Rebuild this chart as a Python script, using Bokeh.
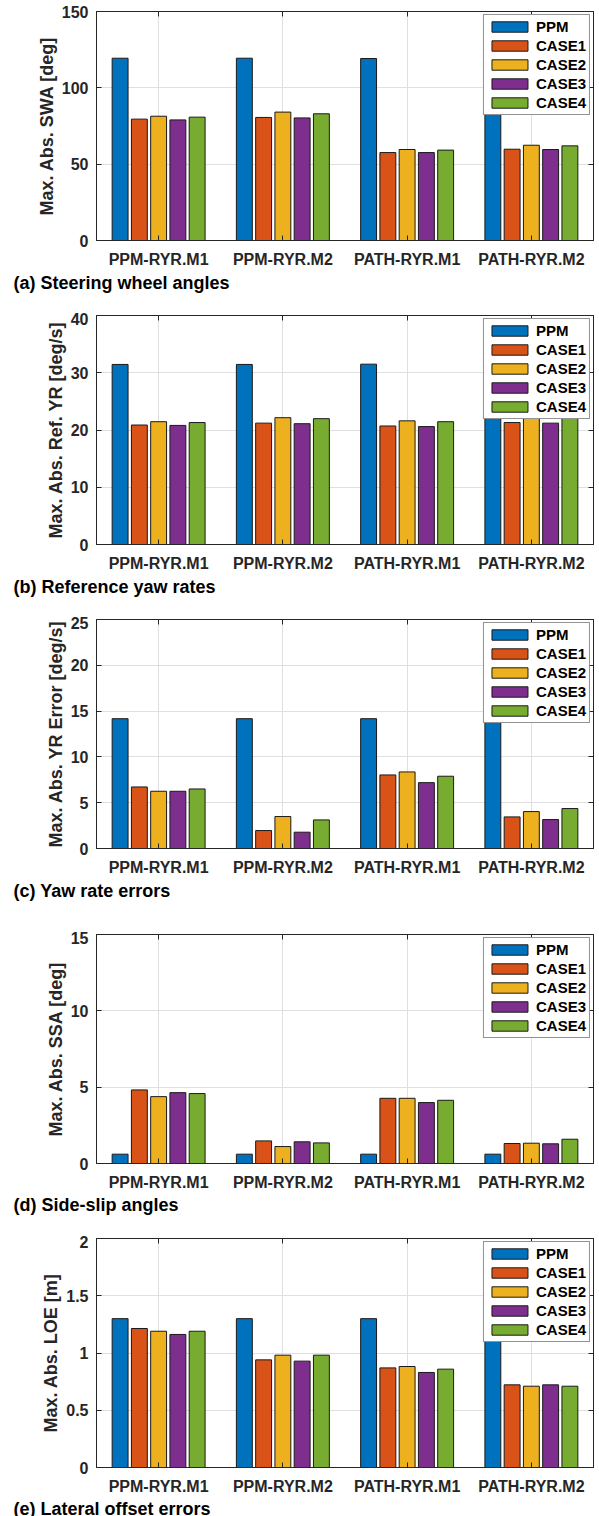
from bokeh.plotting import figure
from bokeh.models import (FactorRange, Range1d, FixedTicker, LinearAxis, CategoricalAxis,
                          Title, ColumnDataSource)
from bokeh.transform import dodge
from bokeh.layouts import column
from bokeh.embed import file_html
from bokeh.resources import INLINE

CATEGORIES = ["PPM-RYR.M1", "PPM-RYR.M2", "PATH-RYR.M1", "PATH-RYR.M2"]
SERIES = ["PPM", "CASE1", "CASE2", "CASE3", "CASE4"]
COLORS = ["#0072BD", "#D95319", "#EDB120", "#7E2F8E", "#77AC30"]

# (a) Max. Abs. SWA [deg]
SWA_PPM = [119.4, 119.4, 119.2, 119.4]
SWA_CASE1 = [79.5, 80.6, 57.6, 59.8]
SWA_CASE2 = [81.4, 84.1, 59.6, 62.4]
SWA_CASE3 = [79.0, 80.3, 57.6, 59.6]
SWA_CASE4 = [80.8, 83.0, 59.2, 62.0]

# (b) Max. Abs. Ref. YR [deg/s]
RYR_PPM = [31.45, 31.45, 31.5, 31.45]
RYR_CASE1 = [20.87, 21.2, 20.7, 21.3]
RYR_CASE2 = [21.45, 22.15, 21.6, 22.5]
RYR_CASE3 = [20.8, 21.1, 20.6, 21.2]
RYR_CASE4 = [21.3, 21.98, 21.45, 22.4]

# (c) Max. Abs. YR Error [deg/s]
YRE_PPM = [14.17, 14.17, 14.17, 14.17]
YRE_CASE1 = [6.72, 1.96, 8.03, 3.45]
YRE_CASE2 = [6.25, 3.49, 8.36, 4.03]
YRE_CASE3 = [6.25, 1.78, 7.19, 3.16]
YRE_CASE4 = [6.5, 3.12, 7.89, 4.36]

# (d) Max. Abs. SSA [deg]
SSA_PPM = [0.61, 0.61, 0.61, 0.61]
SSA_CASE1 = [4.82, 1.48, 4.27, 1.31]
SSA_CASE2 = [4.38, 1.11, 4.27, 1.33]
SSA_CASE3 = [4.64, 1.42, 3.99, 1.29]
SSA_CASE4 = [4.58, 1.35, 4.14, 1.59]

# (e) Max. Abs. LOE [m]
LOE_PPM = [1.30, 1.30, 1.30, 1.30]
LOE_CASE1 = [1.214, 0.94, 0.870, 0.722]
LOE_CASE2 = [1.19, 0.981, 0.882, 0.710]
LOE_CASE3 = [1.162, 0.929, 0.830, 0.722]
LOE_CASE4 = [1.19, 0.981, 0.859, 0.710]

YTICKS_A = [0, 50, 100, 150]
YTICKS_B = [0, 10, 20, 30, 40]
YTICKS_C = [0, 5, 10, 15, 20, 25]
YTICKS_D = [0, 5, 10, 15]
YTICKS_E = [0, 0.5, 1, 1.5, 2]
YLABELS_E = ["0", "0.5", "1", "1.5", "2"]

FONT = "Liberation Sans"
AX_COLOR = "#262626"
GRID_COLOR = "#dfdfdf"


def make_panel(values, yticks, ylabel, caption, top_border, bottom_border,
               tick_labels=None, cap_standoff=2):
    p = figure(x_range=FactorRange(*CATEGORIES), y_range=Range1d(yticks[0], yticks[-1]),
               frame_width=497, frame_height=229,
               min_border_left=96, min_border_right=5, min_border_top=top_border,
               min_border_bottom=bottom_border,
               output_backend="svg", toolbar_location=None)
    p.background_fill_color = "white"
    p.border_fill_color = "white"
    p.outline_line_color = AX_COLOR
    p.outline_line_width = 1

    data = {"cat": CATEGORIES}
    for name, vals in zip(SERIES, values):
        data[name] = vals
    src = ColumnDataSource(data)

    step = 0.155
    for k, (name, color) in enumerate(zip(SERIES, COLORS)):
        p.vbar(x=dodge("cat", (k - 2) * step, range=p.x_range), top=name, width=0.128,
               source=src, fill_color=color, line_color="#1a1a1a", line_width=1,
               legend_label=name)

    ticker = FixedTicker(ticks=yticks)
    p.yaxis.ticker = ticker
    p.ygrid.ticker = ticker
    if tick_labels is not None:
        p.yaxis.major_label_overrides = {t: l for t, l in zip(yticks, tick_labels)}

    for ax in (p.xaxis + p.yaxis):
        ax.axis_line_color = AX_COLOR
        ax.major_tick_line_color = AX_COLOR
        ax.major_tick_in = 5
        ax.major_tick_out = 0
        ax.minor_tick_line_color = None
        ax.major_label_text_font = FONT
        ax.major_label_text_font_style = "bold"
        ax.major_label_text_font_size = "16px"
        ax.major_label_text_color = AX_COLOR
    p.xaxis.major_label_standoff = 10
    p.yaxis.major_label_standoff = 8
    p.yaxis.axis_label = ylabel
    p.yaxis.axis_label_text_font = FONT
    p.yaxis.axis_label_text_font_style = "bold"
    p.yaxis.axis_label_text_font_size = "18px"
    p.yaxis.axis_label_text_color = AX_COLOR
    p.yaxis.axis_label_standoff = 2

    top_ax = CategoricalAxis(major_label_text_font_size="1px", major_label_text_color=None,
                             major_tick_in=5, major_tick_out=0,
                             major_label_standoff=0, axis_line_color=AX_COLOR,
                             major_tick_line_color=AX_COLOR, minor_tick_line_color=None)
    right_ax = LinearAxis(ticker=ticker, major_label_text_font_size="1px",
                          major_label_text_color=None, major_tick_in=5,
                          major_tick_out=0, major_label_standoff=0, axis_line_color=AX_COLOR,
                          major_tick_line_color=AX_COLOR, minor_tick_line_color=None)
    p.add_layout(top_ax, "above")
    p.add_layout(right_ax, "right")

    p.xgrid.grid_line_color = GRID_COLOR
    p.ygrid.grid_line_color = GRID_COLOR

    lg = p.legend[0]
    lg.location = "top_right"
    lg.margin = 3
    lg.padding = 3
    lg.spacing = 2
    lg.glyph_width = 45
    lg.glyph_height = 13
    lg.label_height = 13
    lg.label_standoff = 4
    lg.label_text_font = FONT
    lg.label_text_font_style = "bold"
    lg.label_text_font_size = "15px"
    lg.label_text_color = "black"
    lg.border_line_color = AX_COLOR
    lg.border_line_width = 1
    lg.background_fill_color = "white"
    lg.background_fill_alpha = 1.0

    p.add_layout(Title(text=caption, align="left", offset=-83, vertical_align="middle",
                       standoff=cap_standoff, text_font=FONT, text_font_style="bold",
                       text_font_size="18px", text_color="black"), "below")
    return p


pa = make_panel([SWA_PPM, SWA_CASE1, SWA_CASE2, SWA_CASE3, SWA_CASE4], YTICKS_A,
                "Max. Abs. SWA [deg]", "(a) Steering wheel angles", 11, 72)
pb = make_panel([RYR_PPM, RYR_CASE1, RYR_CASE2, RYR_CASE3, RYR_CASE4], YTICKS_B,
                "Max. Abs. Ref. YR [deg/s]", "(b) Reference yaw rates", 3, 72)
pc = make_panel([YRE_PPM, YRE_CASE1, YRE_CASE2, YRE_CASE3, YRE_CASE4], YTICKS_C,
                "Max. Abs. YR Error [deg/s]", "(c) Yaw rate errors", 3, 83)
pd = make_panel([SSA_PPM, SSA_CASE1, SSA_CASE2, SSA_CASE3, SSA_CASE4], YTICKS_D,
                "Max. Abs. SSA [deg]", "(d) Side-slip angles", 3, 72, cap_standoff=0)
pe = make_panel([LOE_PPM, LOE_CASE1, LOE_CASE2, LOE_CASE3, LOE_CASE4], YTICKS_E,
                "Max. Abs. LOE [m]", "(e) Lateral offset errors", 3, 49,
                tick_labels=YLABELS_E, cap_standoff=0)

layout = column(pa, pb, pc, pd, pe, spacing=0)
open("out.html", "w").write(file_html(layout, INLINE))
